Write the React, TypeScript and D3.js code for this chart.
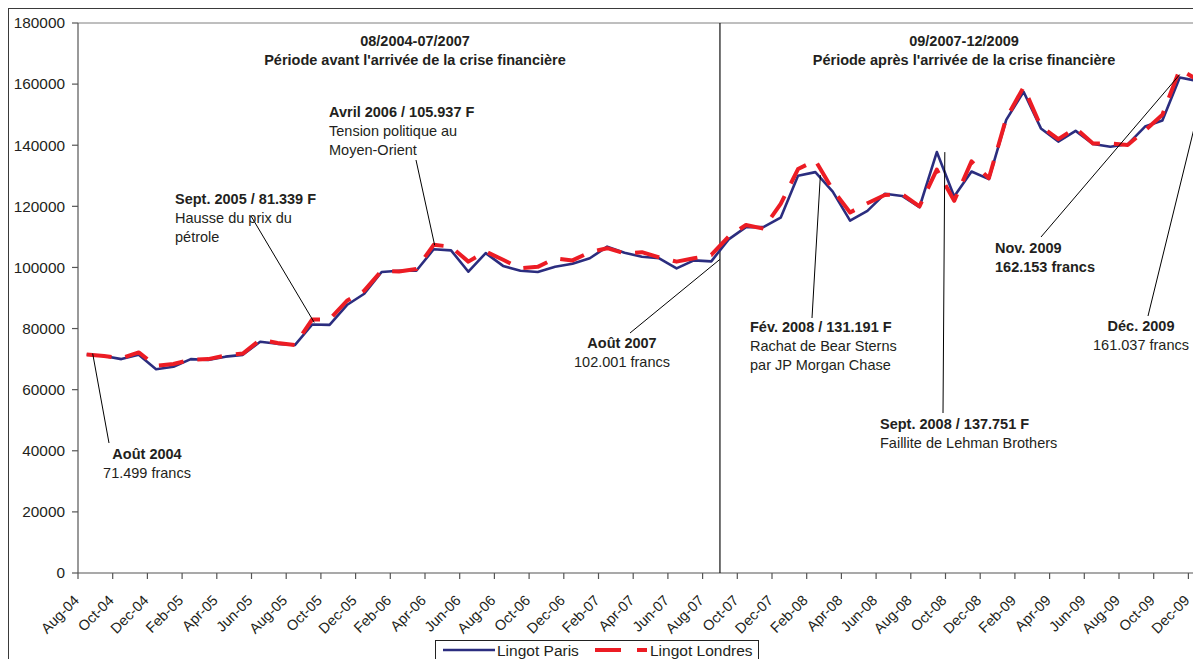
import React from "react";
import * as d3 from "d3";

// ---- data ----
const months = d3.timeMonth.range(new Date(2004, 7, 1), new Date(2010, 0, 1));
const categories: string[] = months.map(d3.timeFormat("%b-%y"));

const paris: number[] = [
  71499, 71000, 70000, 71400, 66700, 67500, 70000, 69700, 70800, 71400,
  75700, 75000, 74600, 81339, 81200, 87700, 91400, 98500, 98900, 98900,
  105937, 105600, 98600, 104700, 100500, 98900, 98500, 100200, 101200, 103000,
  106800, 104800, 103500, 103000, 99700, 102300, 102001, 109200, 113200, 113200,
  116300, 130000, 131191, 124800, 115300, 118500, 124100, 123400, 119700, 137751,
  123200, 131400, 128900, 148300, 157500, 145500, 141200, 144700, 140400, 139500,
  140300, 146100, 148100, 162153, 161037,
];

const londres: number[] = [
  71500, 71000, 70300, 72200, 67800, 68400, 69800, 70000, 71200, 71800,
  76300, 75300, 74600, 83000, 83000, 89100, 92400, 98900, 98700, 99500,
  107400, 106800, 101900, 105200, 102500, 99700, 100200, 103000, 102300, 105000,
  106300, 104600, 105000, 103300, 101900, 103000, 104100, 110100, 113900, 112700,
  120800, 132200, 135000, 125400, 118000, 121000, 123700, 124000, 120000, 132000,
  121800, 134700, 129200, 148800, 159000, 146100, 142000, 145600, 140600, 140600,
  140100, 144800, 150000, 164800, 161500,
];

const yTicks: number[] = [0, 20000, 40000, 60000, 80000, 100000, 120000, 140000, 160000, 180000];

const seriesNames: string[] = ["Lingot Paris", "Lingot Londres"];

const periodTitles: string[][] = [
  ["08/2004-07/2007", "Période avant l'arrivée de la crise financière"],
  ["09/2007-12/2009", "Période après l'arrivée de la crise financière"],
];

// ---- layout ----
const W = 1193;
const H = 659;
const LEFT = 78;
const TOP = 23;
const BOTTOM = 573;
const STEP = 17.35;
const FONT = "'Liberation Sans', Arial, sans-serif";
const TXT = "#231f20";
const BLUE = "#2b2d7f";
const RED = "#ec1c24";

type Line = { t: string; b: boolean };
type Ann = {
  lines: Line[];
  x: number;
  y: number;
  anchor: "start" | "middle";
  from: [number, number];
  idx: number;
  off: [number, number];
  toSep?: boolean;
};

const annotations: Ann[] = [
  { lines: [{ t: "Août 2004", b: true }, { t: "71.499 francs", b: false }], x: 147, y: 454, anchor: "middle", from: [109, 443], idx: 0, off: [6, -1] },
  { lines: [{ t: "Sept. 2005 / 81.339 F", b: true }, { t: "Hausse du prix du", b: false }, { t: "pétrole", b: false }], x: 175, y: 199, anchor: "start", from: [251, 216], idx: 13, off: [2, -2] },
  { lines: [{ t: "Avril 2006 / 105.937 F", b: true }, { t: "Tension politique au", b: false }, { t: "Moyen-Orient", b: false }], x: 329, y: 112, anchor: "start", from: [416, 160], idx: 20, off: [1, -4] },
  { lines: [{ t: "Août 2007", b: true }, { t: "102.001 francs", b: false }], x: 622, y: 343, anchor: "middle", from: [630, 333], idx: 36, off: [0, -2], toSep: true },
  { lines: [{ t: "Fév. 2008 / 131.191 F", b: true }, { t: "Rachat de Bear Sterns", b: false }, { t: "par JP Morgan Chase", b: false }], x: 750, y: 327, anchor: "start", from: [812, 318], idx: 42, off: [5, 3] },
  { lines: [{ t: "Sept. 2008 / 137.751 F", b: true }, { t: "Faillite de Lehman Brothers", b: false }], x: 880, y: 424, anchor: "start", from: [943, 413], idx: 49, off: [8, 0] },
  { lines: [{ t: "Nov. 2009", b: true }, { t: "162.153 francs", b: true }], x: 995, y: 248, anchor: "start", from: [1041, 237], idx: 63, off: [0, -3] },
  { lines: [{ t: "Déc. 2009", b: true }, { t: "161.037 francs", b: false }], x: 1141, y: 326, anchor: "middle", from: [1148, 316], idx: 64, off: [2, 27] },
];

export default function App() {
  const x = d3
    .scaleBand<string>()
    .domain(categories)
    .range([LEFT, LEFT + STEP * categories.length]);
  const y = d3.scaleLinear().domain([0, 180000]).range([BOTTOM, TOP]);
  const cx = (i: number) => (x(categories[i]) as number) + x.bandwidth() / 2;

  const line = d3
    .line<number>()
    .x((_, i) => cx(i))
    .y((d) => y(d));

  const sepX = x(categories[37]) as number; // boundary Aug-07 / Sep-07
  const fs = 14.5;

  return (
    <svg
      width={W}
      height={H}
      style={{ position: "absolute", left: 0, top: 0, background: "#fff" }}
      fontFamily={FONT}
    >
      <rect x={0} y={0} width={W} height={H} fill="#fff" />
      {/* chart frame */}
      <rect x={8.5} y={8.5} width={W + 20} height={H + 20} fill="none" stroke="#3a3a3a" strokeWidth={1} />
      {/* plot area top border */}
      <line x1={LEFT} x2={W + 20} y1={TOP} y2={TOP} stroke="#7f7f7f" strokeWidth={1} />
      {/* y axis */}
      <line x1={LEFT} x2={LEFT} y1={TOP} y2={BOTTOM} stroke="#555" strokeWidth={1.2} />
      {yTicks.map((t) => (
        <g key={t}>
          <line x1={LEFT - 6} x2={LEFT} y1={y(t)} y2={y(t)} stroke="#555" strokeWidth={1.2} />
          <text x={65} y={y(t)} textAnchor="end" dominantBaseline="central" fontSize={fs} fill={TXT}
            transform={`translate(${65 * -0.06},0) scale(1.06,1)`}>
            {t}
          </text>
        </g>
      ))}
      {/* x axis */}
      <line x1={LEFT} x2={W + 20} y1={BOTTOM} y2={BOTTOM} stroke="#555" strokeWidth={1.2} />
      {categories.map((c, i) =>
        i % 2 === 0 ? (
          <line key={"t" + c} x1={x(c) as number} x2={x(c) as number} y1={BOTTOM} y2={BOTTOM + 6} stroke="#555" strokeWidth={1.2} />
        ) : null
      )}
      {categories.map((c, i) =>
        i % 2 === 0 ? (
          <text
            key={"l" + c}
            transform={`translate(${cx(i) - 14},${BOTTOM + 21}) rotate(-45)`}
            textAnchor="end"
            dominantBaseline="hanging"
            fontSize={fs}
            fill={TXT}
          >
            {c}
          </text>
        ) : null
      )}

      {/* separator */}
      <line x1={sepX} x2={sepX} y1={TOP} y2={BOTTOM} stroke="#111" strokeWidth={1.2} />

      {/* period titles */}
      {periodTitles.map((p, j) => {
        const centerX = j === 0 ? 415 : 964;
        return (
          <g key={"p" + j}>
            <text x={centerX} y={41} textAnchor="middle" dominantBaseline="central" fontSize={fs} fontWeight="bold" fill={TXT}>{p[0]}</text>
            <text x={centerX} y={60} textAnchor="middle" dominantBaseline="central" fontSize={fs} fontWeight="bold" fill={TXT}>{p[1]}</text>
          </g>
        );
      })}

      {/* series */}
      <path d={line(paris) as string} fill="none" stroke={BLUE} strokeWidth={2.6} strokeLinejoin="round" />
      <path d={line(londres) as string} fill="none" stroke={RED} strokeWidth={4} strokeDasharray="25 14" strokeLinejoin="round" />

      {/* annotations */}
      {annotations.map((a, j) => {
        const px = a.toSep ? sepX : cx(a.idx) + a.off[0];
        const py = y(paris[a.idx]) + a.off[1];
        return (
          <g key={"a" + j}>
            <line x1={a.from[0]} y1={a.from[1]} x2={px} y2={py} stroke="#000" strokeWidth={1} />
            {a.lines.map((l, k) => (
              <text key={k} x={a.x} y={a.y + k * 19} textAnchor={a.anchor} dominantBaseline="central"
                fontSize={fs} fontWeight={l.b ? "bold" : "normal"} fill={TXT}>
                {l.t}
              </text>
            ))}
          </g>
        );
      })}

      {/* legend */}
      <rect x={435.5} y={640.5} width={323} height={40} fill="#fff" stroke="#222" strokeWidth={1} />
      <line x1={443} x2={495} y1={650} y2={650} stroke={BLUE} strokeWidth={2.6} />
      <text x={497} y={650} dominantBaseline="central" fontSize={15.5} fill={TXT}>{seriesNames[0]}</text>
      <line x1={595} x2={647} y1={650} y2={650} stroke={RED} strokeWidth={4} strokeDasharray="26 16" />
      <text x={650} y={650} dominantBaseline="central" fontSize={15.5} fill={TXT}>{seriesNames[1]}</text>
    </svg>
  );
}
